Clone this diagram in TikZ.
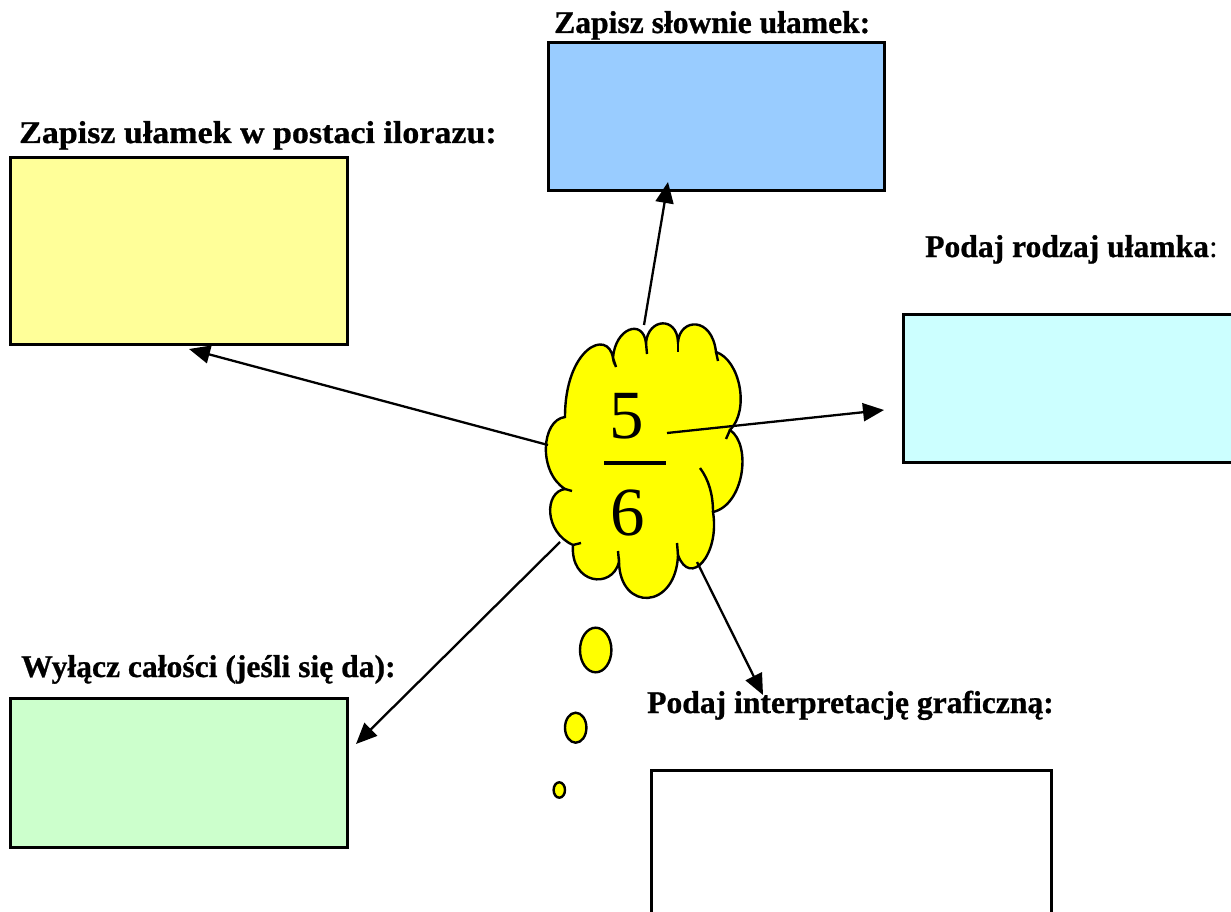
\documentclass[tikz,border=0pt]{standalone}
\usepackage{fontspec}
\setmainfont{Liberation Serif}[BoldFeatures={FakeBold=0.8}]
\usetikzlibrary{arrows.meta}
\definecolor{boxblue}{HTML}{99CCFF}
\definecolor{boxyellow}{HTML}{FFFF99}
\definecolor{boxcyan}{HTML}{CCFFFF}
\definecolor{boxgreen}{HTML}{CCFFCC}
\definecolor{cloudyellow}{HTML}{FFFF00}
\begin{document}
\begin{tikzpicture}[x=1pt,y=-1pt,
  answerbox/.style={draw=black,line width=3pt},
  label/.style={inner sep=0pt,anchor=base west,font=\fontsize{31.6}{36}\selectfont\bfseries},
  cloudline/.style={draw=black,line width=2.4pt},
  pointer/.style={draw=black,line width=2.3pt,-{Triangle[length=21pt,width=18pt]}},
  digit/.style={inner sep=0pt,anchor=base,font=\fontsize{69}{72}\selectfont}]
\useasboundingbox (0,0) rectangle (1231,912);
\clip (0,0) rectangle (1231,912);
\fill[white] (0,0) rectangle (1231,912);

% boxes
\draw[answerbox,fill=boxblue] (548,43) rectangle (884,191);
\draw[answerbox,fill=boxyellow] (10,158) rectangle (347,344);
\draw[answerbox,fill=boxcyan] (903,314) rectangle (1240,462);
\draw[answerbox,fill=boxgreen] (10,698) rectangle (347,847);
\draw[answerbox,fill=white] (651,770) rectangle (1051,925);

% labels
\node[label] (lslow) at (554,33) {Zapisz słownie ułamek:};
\node[label] (liloraz) at (19,143) {\scalebox{1.075}[1]{Zapisz ułamek w postaci ilorazu:}};
\node[label] (lrodzaj) at (925,257) {Podaj rodzaj ułamka\textmd{:}};
\node[label] (lcalosci) at (21,677) {Wyłącz całości (jeśli się da):};
\node[label] (linterp) at (647,713) {Podaj interpretację graficzną:};

% cloud
\path[cloudline,fill=cloudyellow]
  (565,417) .. controls (565,348) and (608,328) .. (613,358)
  .. controls (615,328) and (643,318) .. (646,343)
  .. controls (648,318) and (677,316) .. (678,342)
  .. controls (680,318) and (712,316) .. (716,352)
  .. controls (740,360) and (750,410) .. (730,430)
  .. controls (752,445) and (744,505) .. (713,512)
  .. controls (720,555) and (690,588) .. (678,555)
  .. controls (676,610) and (620,612) .. (619,562)
  .. controls (612,590) and (570,584) .. (573,545)
  .. controls (544,532) and (544,492) .. (565,489)
  .. controls (538,472) and (541,420) .. (565,417) -- cycle;
\draw[cloudline] (613,358) -- (616,367);
\draw[cloudline] (646,343) -- (647,354);
\draw[cloudline] (678,342) -- (678,352);
\draw[cloudline] (716,352) -- (718,361);
\draw[cloudline] (730,430) -- (726,439);
\draw[cloudline] (700,468) .. controls (709,480) and (713,495) .. (713,512);
\draw[cloudline] (678,555) -- (677,543);
\draw[cloudline] (619,562) -- (618,551);
\draw[cloudline] (573,545) -- (581,543);
\draw[cloudline] (565,489) -- (572,491);

% thought bubbles
\draw[cloudline,fill=cloudyellow] (595.7,650) ellipse [x radius=15.7,y radius=22.3];
\draw[cloudline,fill=cloudyellow] (575.7,727.7) ellipse [x radius=10.7,y radius=15];
\draw[cloudline,fill=cloudyellow] (559.3,790) ellipse [x radius=5.7,y radius=7.7];

% fraction
\node[digit] (num) at (627,438) {5};
\node[digit] (den) at (628,535) {6};
\draw[line width=3.2pt] (604,463) -- (666,463);

% connector end points
\coordinate (sup) at (644,325);
\coordinate (sleft) at (548,445);
\coordinate (sright) at (667,433);
\coordinate (sdl) at (560,542);
\coordinate (sdr) at (697,562);
\coordinate (tup) at (668,182);
\coordinate (tleft) at (189,349);
\coordinate (tright) at (884,410);
\coordinate (tdl) at (356,744);
\coordinate (tdr) at (763,695);

\draw[pointer] (sup) -- (tup);
\draw[pointer] (sleft) -- (tleft);
\draw[pointer] (sright) -- (tright);
\draw[pointer] (sdl) -- (tdl);
\draw[pointer] (sdr) -- (tdr);
\end{tikzpicture}
\end{document}
